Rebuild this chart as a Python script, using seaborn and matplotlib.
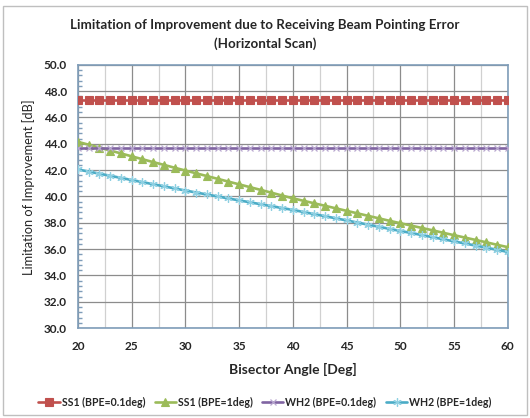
import numpy as np
import pandas as pd
import matplotlib
matplotlib.use("Agg")
import matplotlib.pyplot as plt
from matplotlib.ticker import MultipleLocator, FormatStrFormatter
from matplotlib.patches import Rectangle
import seaborn as sns

angles = list(range(20, 61))

ss1_01 = [47.3] * 41
ss1_1 = [44.15, 43.93, 43.71, 43.49, 43.27, 43.05, 42.83, 42.61, 42.40, 42.18,
         41.97, 41.76, 41.55, 41.34, 41.13, 40.92, 40.71, 40.50, 40.29, 40.07,
         39.86, 39.67, 39.48, 39.29, 39.10, 38.91, 38.72, 38.53, 38.34, 38.15,
         37.97, 37.79, 37.61, 37.43, 37.24, 37.06, 36.88, 36.70, 36.52, 36.33,
         36.15]
wh2_01 = [43.7] * 41
wh2_1 = [42.05, 41.89, 41.73, 41.57, 41.41, 41.25, 41.09, 40.93, 40.77, 40.61,
         40.45, 40.30, 40.15, 40.00, 39.85, 39.70, 39.56, 39.41, 39.27, 39.12,
         38.98, 38.82, 38.66, 38.50, 38.34, 38.18, 38.02, 37.86, 37.70, 37.54,
         37.38, 37.23, 37.07, 36.91, 36.75, 36.59, 36.43, 36.27, 36.11, 35.95,
         35.79]

series_names = ["SS1 (BPE=0.1deg)", "SS1 (BPE=1deg)", "WH2 (BPE=0.1deg)", "WH2 (BPE=1deg)"]
series_values = [ss1_01, ss1_1, wh2_01, wh2_1]

title_text = "Limitation of Improvement due to Receiving Beam Pointing Error\n(Horizontal Scan)"
x_label = "Bisector Angle [Deg]"
y_label = "Limitation of Improvement [dB]"

sns.set_theme(style="white")
plt.rcParams['font.family'] = ['Lato', 'DejaVu Sans']

fig = plt.figure(figsize=(5.30, 4.18), dpi=100)
ax = fig.add_axes([0.147, 0.215, 0.811, 0.630])

styles = [
    dict(color="#C0504D", marker="s", ms=5.3, mfc="#C0504D", mec="#C0504D", mew=0.8),
    dict(color="#9BBB59", marker="^", ms=5.5, mfc="#9BBB59", mec="#9BBB59", mew=0.8),
    dict(color="#8064A2", marker="x", ms=5, mfc="#B9A8D0", mec="#B9A8D0", mew=0.9),
    dict(color="#4BACC6", marker=(6, 2, 0), ms=6, mfc="#8FD0E2", mec="#8FD0E2", mew=0.9),
]

for name, vals, st in zip(series_names, series_values, styles):
    df = pd.DataFrame({"angle": angles, "value": vals})
    sns.lineplot(data=df, x="angle", y="value", ax=ax, label=name,
                 color=st["color"], linewidth=1.9, marker=st["marker"],
                 markersize=st["ms"], markerfacecolor=st["mfc"],
                 markeredgecolor=st["mec"], markeredgewidth=st["mew"], zorder=3)

ax.set_xlim(20, 60)
ax.set_ylim(30, 50)
ax.xaxis.set_major_locator(MultipleLocator(5))
ax.xaxis.set_minor_locator(MultipleLocator(2.5))
ax.yaxis.set_major_locator(MultipleLocator(2))
ax.yaxis.set_minor_locator(MultipleLocator(0.4))
ax.yaxis.set_major_formatter(FormatStrFormatter("%.1f"))

ax.grid(True, which="major", axis="both", color="#8C8C8C", linewidth=0.9)
ax.grid(True, which="minor", axis="x", color="#D0D0D0", linewidth=0.9)
ax.set_axisbelow(True)

for sp in ax.spines.values():
    sp.set_color("#7F9DB9")
    sp.set_linewidth(1.2)

ax.tick_params(axis="x", which="both", length=0, labelsize=8.5, pad=9)
ax.tick_params(axis="y", which="major", length=4, direction="in", color="#7F9DB9", labelsize=8.5, pad=8)
ax.tick_params(axis="y", which="minor", length=3, direction="in", color="#7F9DB9", left=True)
for lbl in ax.get_xticklabels() + ax.get_yticklabels():
    lbl.set_fontweight("bold")

ax.set_xlabel(x_label, fontsize=10, fontweight="bold", labelpad=8)
ax.set_ylabel(y_label, fontsize=9.2)
ax.yaxis.set_label_coords(-0.10, 0.535)

fig.text(0.5, 0.917, title_text, ha="center", va="center", fontsize=9.6,
         fontweight="bold", linespacing=1.55)

ax.legend_.remove()
handles, labels = ax.get_legend_handles_labels()
leg = fig.legend(handles, labels, loc="center", bbox_to_anchor=(0.5, 0.038), ncol=4,
                 frameon=False, prop={"size": 7.6, "weight": "bold"},
                 handlelength=2.0, handletextpad=0.2, columnspacing=0.9)

fig.patches.append(Rectangle((0.006, 0.006), 0.988, 0.98, transform=fig.transFigure,
                             fill=False, edgecolor="#BFBFBF", linewidth=1.0))

fig.savefig("out.png", dpi=100, facecolor="white")
